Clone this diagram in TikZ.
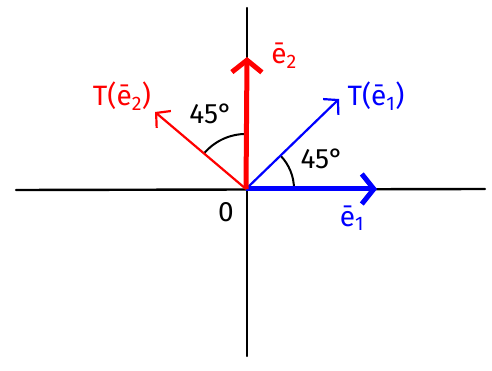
\documentclass[tikz,border=0pt]{standalone}
\usepackage{fontspec}
\setmainfont{Fira Sans}
\usetikzlibrary{arrows.meta}
\tikzset{
    % Coordinate axes - plain black lines
    axis line/.style={black, line width=2.4pt, line cap=round},
    % Basis vectors - thick arrows
    basis vec/.style={line width=5pt, -{Straight Barb[length=12pt, width=30pt]}},
    % Transformed vectors - thin arrows
    image vec/.style={line width=2.2pt, -{Straight Barb[length=10pt, width=22pt]}},
    % Angle marks
    angle arc/.style={black, line width=2pt},
    % Hand-style labels
    lbl/.style={font=\fontsize{28}{31}\selectfont, inner sep=1pt}
}

\begin{document}
\begin{tikzpicture}[x=1pt, y=-1pt]
    \useasboundingbox (0,0) rectangle (492,371);

    % --- Set up coordinates ---
    \coordinate (O) at (246,189);
    \coordinate (Xl) at (16,190);
    \coordinate (Xr) at (485,189);
    \coordinate (Yt) at (247,8);
    \coordinate (Yb) at (247,356);

    % Basis vectors and their images
    \coordinate (E1) at (377,189);
    \coordinate (E2) at (247,57);
    \coordinate (TE1) at (339,99);
    \coordinate (TE2) at (155,112);

    % --- Axes ---
    \draw[axis line] (Xl) -- (Xr);
    \draw[axis line] (Yt) -- (Yb);

    % --- Angle marks (y runs downwards, so angles are negative) ---
    \draw[angle arc] ([shift={(48,0)}]O) arc[start angle=0, end angle=-44, radius=48];
    \draw[angle arc] ([shift={(-42.1,-35.4)}]O) arc[start angle=-140, end angle=-90, radius=55];

    % --- Vectors ---
    \draw[image vec, blue] (O) -- (TE1);
    \draw[image vec, red] (O) -- (TE2);
    \draw[basis vec, blue] (O) -- (E1);
    \draw[basis vec, red] (O) -- (E2);

    % --- Labels ---
    \node[lbl, blue] (lTE1) at (376,96) {T(\={e}\textsubscript{1})};
    \node[lbl, red] (lTE2) at (122,96) {T(\={e}\textsubscript{2})};
    \node[lbl, blue] (lE1) at (352,218) {\={e}\textsubscript{1}};
    \node[lbl, red] (lE2) at (284,56) {\={e}\textsubscript{2}};
    \node[lbl] (lO) at (226,212) {0};
    \node[lbl] (lAtop) at (211,114) {45°};
    \node[lbl] (lAbot) at (322,159) {45°};

\end{tikzpicture}
\end{document}
